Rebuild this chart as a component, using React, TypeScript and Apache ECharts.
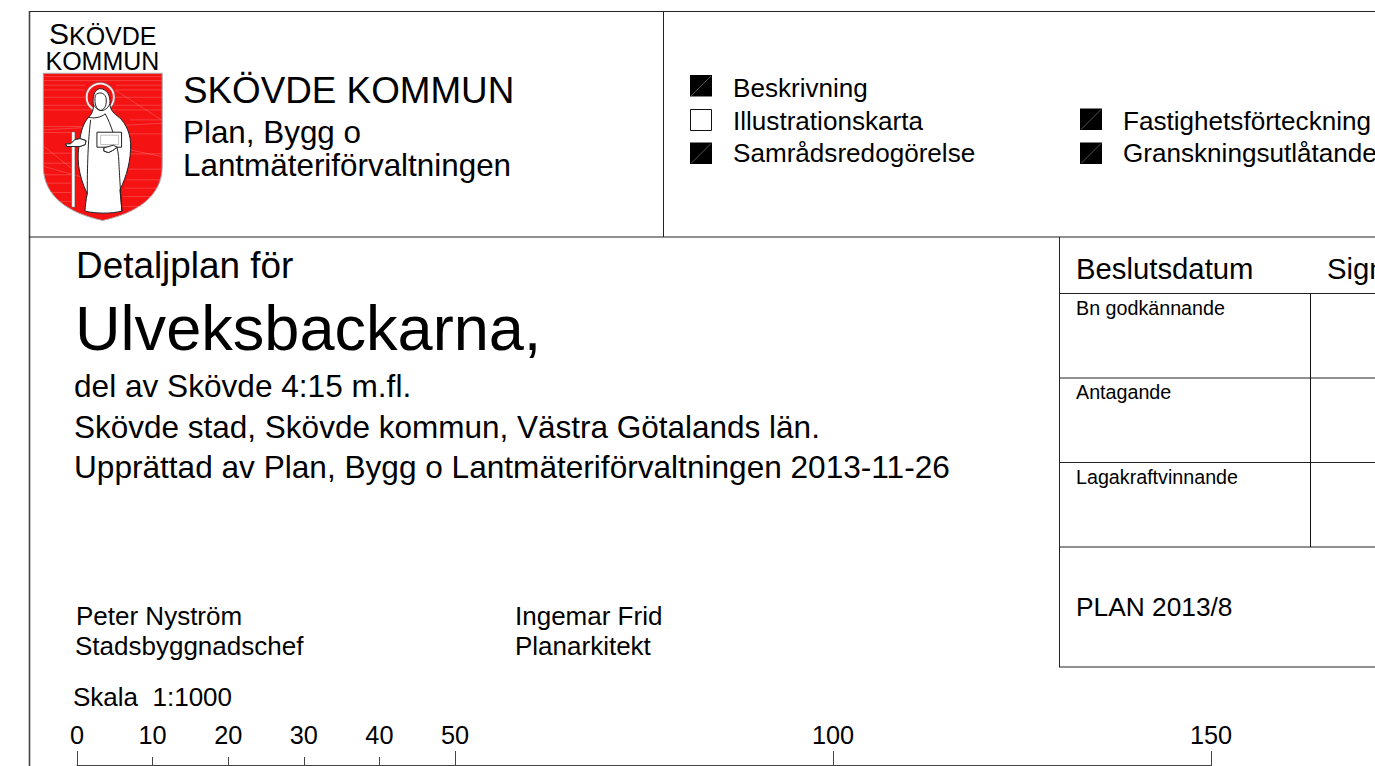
import React, { useEffect, useRef } from "react";
import * as echarts from "echarts";

const orgName = "SKÖVDE KOMMUN";
const orgDept = ["Plan, Bygg o", "Lantmäteriförvaltningen"];
const checksLeft = ["Beskrivning", "Illustrationskarta", "Samrådsredogörelse"];
const checksLeftOn = [true, false, true];
const checksRight = ["Fastighetsförteckning", "Granskningsutlåtande"];
const titleLines = [
  "Detaljplan för",
  "Ulveksbackarna,",
  "del av Skövde 4:15 m.fl.",
  "Skövde stad, Skövde kommun, Västra Götalands län.",
  "Upprättad av Plan, Bygg o Lantmäteriförvaltningen 2013-11-26",
];
const decisionHead = ["Beslutsdatum", "Signatur"];
const decisionRows = ["Bn godkännande", "Antagande", "Lagakraftvinnande"];
const planNumber = "PLAN 2013/8";
const signers = [
  ["Peter Nyström", "Stadsbyggnadschef"],
  ["Ingemar Frid", "Planarkitekt"],
];
const scaleText = "Skala  1:1000";
const scaleMajor = [0, 50, 100, 150];
const scaleMinor = [10, 20, 30, 40];

const FONT = '"Liberation Sans", Arial, sans-serif';

echarts.graphic.registerShape(
  "shieldShape",
  echarts.graphic.extendPath(
    "M40 190 L397 190 L397 470 C397 560 320 610 218 632 C116 610 40 560 40 470 Z",
    {}
  )
);
echarts.graphic.registerShape(
  "stripeShape",
  echarts.graphic.extendPath(
    "M42 200H395 M42 212H395 M42 226H165 M258 226H395 M42 240H165 M258 240H395 M42 262H165 M258 262H395 M42 286H170 M252 286H395 M42 300H395 M42 350H160 M300 330H395 M42 368H125 M300 372H395 M42 430H125 M300 432H395 M42 460H125 M290 478H395 M44 495H125 M290 510H395 M50 520H125 M285 535H390 M62 548H125 M280 560H370 M80 575H125 M280 590H340 M42 360L395 340 M42 410L130 480 M300 420L395 440 M255 240L395 330 M150 500L42 470",
    {}
  )
);
echarts.graphic.registerShape(
  "robeShape",
  echarts.graphic.extendPath(
    "M210 236 C192 240 188 262 190 282 C192 300 186 312 176 322 C160 340 152 366 150 392 C140 440 142 490 172 552 C168 570 166 590 165 604 C200 612 245 612 276 604 C274 580 272 560 270 540 C290 500 304 450 302 400 C300 360 280 330 262 318 C248 308 240 296 240 280 C242 258 232 238 210 236 Z",
    {}
  )
);
echarts.graphic.registerShape(
  "robeLinesShape",
  echarts.graphic.extendPath(
    "M190 282 C200 305 225 312 240 282 M176 322 C192 326 210 324 226 312 M226 312 C242 340 262 400 266 440 C268 480 270 520 276 604 M182 330 C176 380 172 440 172 552 M196 256 C205 246 222 246 228 262 C232 285 225 298 212 302 C200 298 192 285 196 256",
    {}
  )
);
echarts.graphic.registerShape(
  "handShape",
  echarts.graphic.extendPath(
    "M222 414 L250 406 L262 412 L248 422 L236 428 L222 424 Z M150 386 L168 392 L166 404 L150 410 L110 410 L108 402 L122 402 L134 390 Z",
    {}
  )
);

function txt(text: string, x: number, y: number, size: number, extra: any = {}) {
  return {
    type: "text",
    x,
    y,
    silent: true,
    style: {
      text,
      fill: "#000",
      font: `${size}px ${FONT}`,
      textAlign: "left",
      textVerticalAlign: "middle",
      ...extra,
    },
  };
}

function ln(x1: number, y1: number, x2: number, y2: number, stroke = "#222", lineWidth = 1) {
  return {
    type: "line",
    silent: true,
    shape: { x1, y1, x2, y2 },
    style: { stroke, lineWidth },
  };
}

function box(x: number, y: number, on: boolean) {
  return on
    ? [
        { type: "rect", silent: true, shape: { x, y, width: 22, height: 21.5 }, style: { fill: "#000" } },
        ln(x + 1, y + 21, x + 21, y + 1, "#555"),
      ]
    : [
        {
          type: "rect",
          silent: true,
          shape: { x: x + 0.5, y: y + 0.5, width: 21, height: 21 },
          style: { fill: "#fff", stroke: "#111", lineWidth: 1 },
        },
      ];
}

const lp = (type: string, style: any) => ({ type, silent: true, style });

function logo() {
  return {
    type: "group",
    x: 30,
    y: 10,
    scaleX: 1 / 3,
    scaleY: 1 / 3,
    silent: true,
    children: [
      lp("shieldShape", { fill: "#f41212", stroke: "#aaa", lineWidth: 3 }),
      lp("stripeShape", { fill: "none", stroke: "rgba(255,170,170,0.6)", lineWidth: 1.5 }),
      {
        type: "circle",
        silent: true,
        shape: { cx: 211, cy: 262, r: 41 },
        style: { fill: "#f41212", stroke: "#eee", lineWidth: 6 },
      },
      {
        type: "circle",
        silent: true,
        shape: { cx: 211, cy: 262, r: 45 },
        style: { fill: "none", stroke: "#777", lineWidth: 1.5 },
      },
      lp("robeShape", { fill: "#fff", stroke: "#222", lineWidth: 3 }),
      lp("robeLinesShape", { fill: "none", stroke: "#222", lineWidth: 3 }),
      {
        type: "rect",
        silent: true,
        shape: { x: 125, y: 366, width: 10, height: 226 },
        style: { fill: "#fff", stroke: "#444", lineWidth: 1.5 },
      },
      lp("handShape", { fill: "#fff", stroke: "#222", lineWidth: 3 }),
      {
        type: "rect",
        silent: true,
        shape: { x: 201, y: 367, width: 74, height: 45 },
        style: { fill: "#fff", stroke: "#222", lineWidth: 3 },
      },
      {
        type: "rect",
        silent: true,
        shape: { x: 212, y: 376, width: 54, height: 28 },
        style: { fill: "#fff", stroke: "#888", lineWidth: 1.5 },
      },
      lp("handShape", { fill: "#fff", stroke: "#222", lineWidth: 3 }),
    ],
  };
}

export default function App() {
  const ref = useRef<HTMLDivElement>(null);
  useEffect(() => {
    const chart = echarts.init(ref.current!, undefined, { renderer: "svg" });
    const axisBase = {
      type: "value",
      position: "top",
      min: 0,
      max: 150,
      splitLine: { show: false },
      axisLine: { show: true, lineStyle: { color: "#444", width: 1 } },
    };
    const labelBase = {
      show: true,
      margin: 18,
      color: "#000",
      fontSize: 25.3,
      fontFamily: FONT,
      hideOverlap: false,
    };
    const graphics: any[] = [
      // frame
      ln(29, 11.5, 1375, 11.5, "#222", 1.2),
      ln(29.5, 11, 29.5, 766, "#444", 1.6),
      ln(663.5, 11, 663.5, 237, "#222"),
      ln(29, 237, 1375, 237, "#222", 1.2),
      ln(1059.5, 237, 1059.5, 667, "#222"),
      ln(1059, 293.5, 1375, 293.5),
      ln(1059, 378, 1375, 378, "#222", 1.2),
      ln(1059, 462.5, 1375, 462.5),
      ln(1059, 547, 1375, 547, "#222", 1.2),
      ln(1059, 667, 1375, 667, "#222", 1.2),
      ln(1310.5, 293, 1310.5, 547, "#111"),
      // logo
      logo(),
      {
        type: "text",
        x: 49,
        y: 48,
        silent: true,
        style: {
          text: "{a|S}{b|KÖVDE}",
          textVerticalAlign: "bottom",
          rich: {
            a: { font: `30px ${FONT}`, fill: "#000", verticalAlign: "bottom", lineHeight: 26 },
            b: { font: `25px ${FONT}`, fill: "#000", verticalAlign: "bottom", lineHeight: 24 },
          },
        },
      },
      txt("KOMMUN", 45.5, 60.5, 25),
      // header
      txt(orgName, 183, 90, 36.8),
      txt(orgDept[0], 183, 132, 31.4),
      txt(orgDept[1], 183, 165, 31.4),
      // checks
      ...checksLeft.flatMap((c, i) => [
        ...box(690, [75, 109, 142.5][i], checksLeftOn[i]),
        txt(c, 733, [88, 121, 152.5][i], 26.1),
      ]),
      ...checksRight.flatMap((c, i) => [
        ...box(1080, [108.5, 142.5][i], true),
        txt(c, 1123, [120.5, 153][i], 26.1),
      ]),
      // title
      txt(titleLines[0], 76, 265, 36.9),
      txt(titleLines[1], 75, 328, 63.1),
      txt(titleLines[2], 74, 386, 31.6),
      txt(titleLines[3], 74, 427, 31.5),
      txt(titleLines[4], 74, 467, 31.6),
      // decisions
      txt(decisionHead[0], 1076, 268.5, 29.3),
      txt(decisionHead[1], 1327, 268.5, 29.3),
      ...decisionRows.map((r, i) => txt(r, 1076, [308, 392, 477][i], 19.7)),
      txt(planNumber, 1076, 607, 26.3),
      // signers
      txt(signers[0][0], 76, 616, 26),
      txt(signers[0][1], 75, 646, 26),
      txt(signers[1][0], 515, 616, 26),
      txt(signers[1][1], 515, 646, 26),
      txt(scaleText, 73, 697, 26),
    ];
    chart.setOption({
      animation: false,
      backgroundColor: "#fff",
      grid: { left: 77, width: 1134, top: 765, height: 1, containLabel: false },
      xAxis: [
        {
          ...axisBase,
          axisTick: { show: true, inside: false, length: 15, customValues: scaleMajor, lineStyle: { color: "#444", width: 1 } },
          axisLabel: { ...labelBase, customValues: scaleMajor },
        },
        {
          ...axisBase,
          axisTick: { show: true, inside: false, length: 8, customValues: scaleMinor, lineStyle: { color: "#444", width: 1 } },
          axisLabel: { ...labelBase, customValues: scaleMinor },
        },
      ],
      yAxis: { type: "value", show: false, min: 0, max: 1 },
      series: [{ type: "line", data: [], xAxisIndex: 0, silent: true }],
      graphic: graphics,
    });
    return () => chart.dispose();
  }, []);
  return (
    <div
      ref={ref}
      style={{ position: "fixed", left: 0, top: 0, width: 1375, height: 766, background: "#fff", overflow: "hidden" }}
    />
  );
}
